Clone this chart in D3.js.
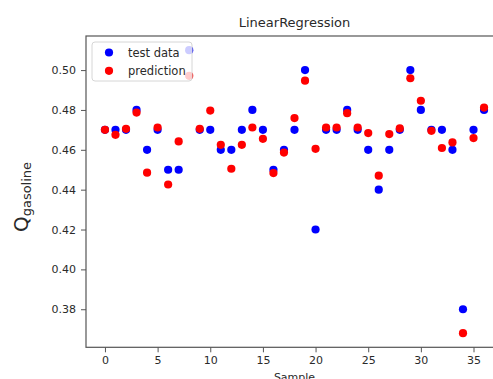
<!DOCTYPE html>
<html>
<head>
<meta charset="utf-8">
<script src="https://cdn.jsdelivr.net/npm/d3@7"></script>
<style>
  html, body { margin: 0; padding: 0; background: #fff; }
  svg { display: block; font-family: "DejaVu Sans", sans-serif; }
</style>
</head>
<body>
<svg id="chart" width="493" height="379"></svg>
<script>
// Sample indices
const samples = d3.range(0, 37);

// Observed gasoline quality for each test sample
const testData = [0.47, 0.47, 0.47, 0.48, 0.46, 0.47, 0.45, 0.45, 0.51, 0.47,
                  0.47, 0.46, 0.46, 0.47, 0.48, 0.47, 0.45, 0.46, 0.47, 0.50,
                  0.42, 0.47, 0.47, 0.48, 0.47, 0.46, 0.44, 0.46, 0.47, 0.50,
                  0.48, 0.47, 0.47, 0.46, 0.38, 0.47, 0.48];

// Linear regression predictions for the same samples
const prediction = [0.470, 0.4675, 0.4705, 0.4787, 0.4485, 0.4712, 0.4426, 0.4642, 0.4971, 0.4705,
                    0.4797, 0.4625, 0.4505, 0.4625, 0.4712, 0.4655, 0.4483, 0.4586, 0.4759, 0.4947,
                    0.4605, 0.4712, 0.4712, 0.4784, 0.4712, 0.4684, 0.4470, 0.4679, 0.4707, 0.4959,
                    0.4846, 0.4695, 0.4609, 0.4637, 0.3680, 0.4659, 0.4812];

const xTicks = [0, 5, 10, 15, 20, 25, 30, 35];
const yTicks = [0.38, 0.40, 0.42, 0.44, 0.46, 0.48, 0.50];

const svg = d3.select("#chart");
const plot = { left: 86, right: 503, top: 36, bottom: 347.3 };
const textColor = "#2a2a2a";
const axisColor = "#555";

// 5% padding around the data range on both axes
const xMin = d3.min(samples), xMax = d3.max(samples);
const xPad = (xMax - xMin) * 0.05;
const allY = testData.concat(prediction);
const yMin = d3.min(allY), yMax = d3.max(allY);
const yPad = (yMax - yMin) * 0.05;

const x = d3.scaleLinear().domain([xMin - xPad, xMax + xPad]).range([plot.left, plot.right]);
const y = d3.scaleLinear().domain([yMin - yPad, yMax + yPad]).range([plot.bottom, plot.top]);

// Axes
const xAxis = svg.append("g")
  .attr("transform", `translate(0,${plot.bottom})`)
  .call(d3.axisBottom(x).tickValues(xTicks).tickFormat(d3.format("d")).tickSize(5).tickPadding(4));
const yAxis = svg.append("g")
  .attr("transform", `translate(${plot.left},0)`)
  .call(d3.axisLeft(y).tickValues(yTicks).tickFormat(d3.format(".2f")).tickSize(5).tickPadding(5));

[xAxis, yAxis].forEach(g => {
  g.select(".domain").remove();
  g.selectAll(".tick line").attr("stroke", axisColor).attr("stroke-width", 1);
  g.selectAll(".tick text").attr("fill", textColor).attr("font-size", 11)
    .attr("font-family", "DejaVu Sans, sans-serif");
});

// Frame around the plot area
svg.append("rect")
  .attr("x", plot.left).attr("y", plot.top)
  .attr("width", plot.right - plot.left).attr("height", plot.bottom - plot.top)
  .attr("fill", "none").attr("stroke", axisColor).attr("stroke-width", 1.2);

// Scatter of test data, then predictions on top
svg.append("g").selectAll("circle")
  .data(samples)
  .join("circle")
  .attr("cx", i => x(i)).attr("cy", i => y(testData[i]))
  .attr("r", 4.1).attr("fill", "#0000ff");

svg.append("g").selectAll("circle")
  .data(samples)
  .join("circle")
  .attr("cx", i => x(i)).attr("cy", i => y(prediction[i]))
  .attr("r", 4.1).attr("fill", "#ff0000");

// Title
svg.append("text")
  .attr("x", (plot.left + plot.right) / 2).attr("y", 27)
  .attr("text-anchor", "middle").attr("font-size", 13).attr("fill", textColor)
  .text("LinearRegression");

// X axis label
svg.append("text")
  .attr("x", (plot.left + plot.right) / 2).attr("y", 381)
  .attr("text-anchor", "middle").attr("font-size", 11).attr("fill", textColor)
  .text("Sample");

// Y axis label with subscript
const yl = svg.append("text")
  .attr("transform", "translate(28,197) rotate(-90)")
  .attr("text-anchor", "middle").attr("fill", textColor);
yl.append("tspan").attr("font-size", 20).text("Q");
yl.append("tspan").attr("font-size", 13).attr("dy", 3).text("gasoline");

// Legend
const legend = svg.append("g");
legend.append("rect")
  .attr("x", 92).attr("y", 42).attr("width", 100).attr("height", 39).attr("rx", 3)
  .attr("fill", "#fff").attr("fill-opacity", 0.8)
  .attr("stroke", "#d6d6d6").attr("stroke-width", 1);
const legendItems = [
  { label: "test data", color: "#0000ff" },
  { label: "prediction", color: "#ff0000" }
];
legendItems.forEach((d, i) => {
  const cy = 52.5 + i * 18.3;
  legend.append("circle").attr("cx", 109).attr("cy", cy).attr("r", 4.1).attr("fill", d.color);
  legend.append("text").attr("x", 128).attr("y", cy + 4)
    .attr("font-size", 11.5).attr("fill", textColor).text(d.label);
});
</script>
</body>
</html>
